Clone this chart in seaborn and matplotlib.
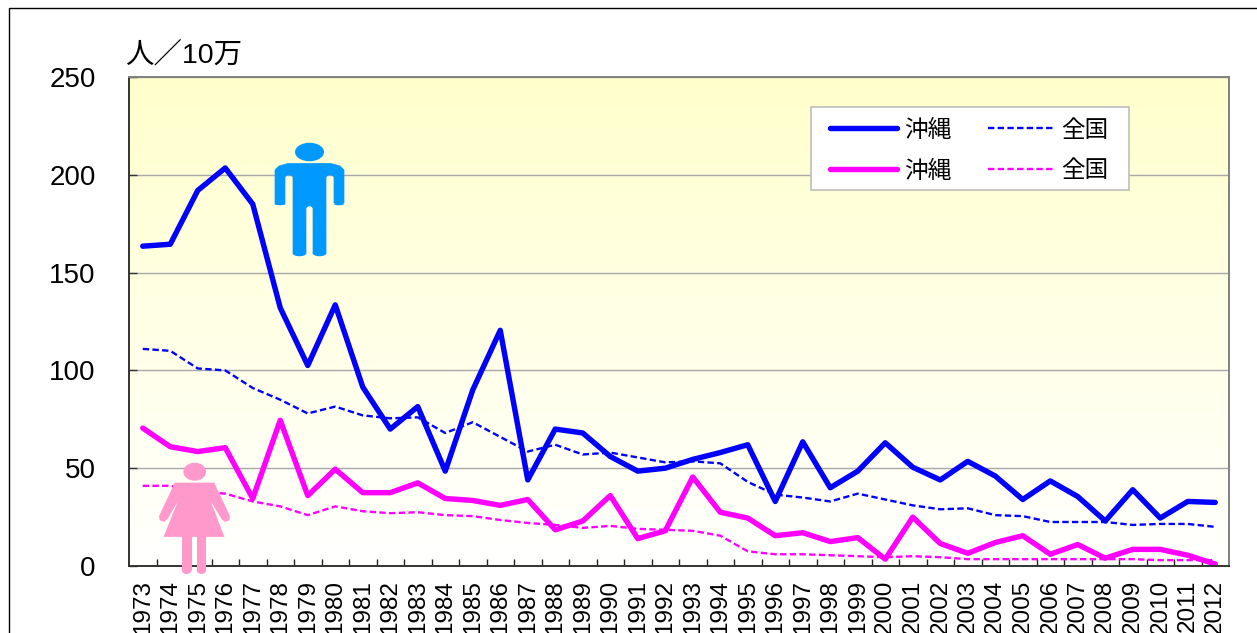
import numpy as np
import pandas as pd
import matplotlib
matplotlib.use("Agg")
import matplotlib.pyplot as plt
import seaborn as sns
from matplotlib.patches import Ellipse, Polygon, Rectangle
from matplotlib.colors import LinearSegmentedColormap
from matplotlib.ticker import FixedLocator

years = [str(y) for y in range(1973, 2013)]
male_okinawa = [163.5,164.5,192,203.5,185,132,102.5,133.5,91.5,70,81.5,48.5,90,120.5,44,70,68,56,48.5,50,
                54.5,58,62,33,63.5,40,48.5,63,50.5,44,53.5,46,34,43.5,35.5,23,39,24.5,33,32.5]
male_national = [111,110,101,100,91,85,78,81.5,77,75.5,76,68,73.5,66,58.5,62,57,58,55.5,53,
                 53.5,52.5,43,36.5,35,33,37,34,31,29,29.5,26,25.5,22.5,22.5,22.5,21,21.5,21.5,20]
female_okinawa = [70.5,61,58.5,60.5,34.5,74.5,36,49.5,37.5,37.5,42.5,34.5,33.5,31,34,18.5,23,36,14,18,
                  45.5,27.5,24.5,15.5,17,12.5,14.5,3.5,25,11.5,6.5,12,15.5,6,11,4,8.5,8.5,5.5,1]
female_national = [41,41,38,37,33,30.5,26,30.5,28,27,27.5,26,25.5,23.5,22,21,19.5,20.5,19,18.5,
                   18,15.5,7.5,6,6,5.5,5,4.5,5,4.5,3.5,3.5,3.5,3.5,3.5,3.5,3.5,3,3,3]
y_ticks = [0, 50, 100, 150, 200, 250]
unit_label = "人／10万"
okinawa_label = "沖縄"
national_label = "全国"

W, H = 1257, 633
sns.set_theme(style="white")
plt.rcParams["font.family"] = ["Liberation Sans", "Noto Sans CJK JP", "DejaVu Sans"]

fig = plt.figure(figsize=(W / 100, H / 100), dpi=100, facecolor="white")
ax = fig.add_axes([129 / W, 1 - 566 / H, 1100 / W, 489 / H])

cmap = LinearSegmentedColormap.from_list("bg", ["#FFFFFF", "#FFFFCC"])
ax.imshow(np.linspace(1, 0, 256).reshape(-1, 1), cmap=cmap, aspect="auto",
          extent=(0, 1, 0, 1), transform=ax.transAxes, zorder=0)

df = pd.DataFrame({"year": years, "mo": male_okinawa, "mn": male_national,
                   "fo": female_okinawa, "fn": female_national})
dash = (0, (2.7, 1.4))
sns.lineplot(data=df, x="year", y="mn", color="#0000FF", lw=1.7, linestyle=dash, ax=ax, sort=False, errorbar=None)
sns.lineplot(data=df, x="year", y="fn", color="#FF00FF", lw=1.7, linestyle=dash, ax=ax, sort=False, errorbar=None)
sns.lineplot(data=df, x="year", y="mo", color="#0000FF", lw=3.9, ax=ax, sort=False, errorbar=None,
             solid_capstyle="round", solid_joinstyle="round")
sns.lineplot(data=df, x="year", y="fo", color="#FF00FF", lw=3.9, ax=ax, sort=False, errorbar=None,
             solid_capstyle="round", solid_joinstyle="round")
l_mn, l_fn, l_mo, l_fo = ax.lines[:4]

ax.set_xlim(-0.5, len(years) - 0.5)
ax.set_ylim(0, 250)
ax.set_xlabel("")
ax.set_ylabel("")
ax.set_yticks(y_ticks)
ax.set_xticks(range(len(years)))
ax.set_xticklabels(years, rotation=90, fontsize=17.5)
ax.xaxis.set_minor_locator(FixedLocator(np.arange(0.5, len(years) - 1, 1)))
ax.tick_params(axis="x", which="major", length=0, pad=10, bottom=True, labelcolor="black")
ax.tick_params(axis="x", which="minor", direction="in", length=5, width=1, color="#222222", bottom=True)
ax.tick_params(axis="y", direction="in", length=5.8, width=1, color="#333333", left=True, pad=24, labelsize=20, labelcolor="black")
ax.grid(False)
ax.yaxis.grid(True, color="#A8A8A8", lw=1)
for s, c in [("left", "#333333"), ("bottom", "#333333"), ("top", "#808080"), ("right", "#808080")]:
    ax.spines[s].set_visible(True)
    ax.spines[s].set_color(c)
    ax.spines[s].set_linewidth(1.4)

# legend box behind a frameless legend
ax.add_patch(Rectangle((811 / W, 1 - 190 / H), 318 / W, 83 / H, transform=fig.transFigure,
                       fc="white", ec="#BDBDBD", lw=1.2, zorder=4, clip_on=False))
leg = ax.legend(handles=[l_mo, l_fo, l_mn, l_fn],
                labels=[okinawa_label, okinawa_label, national_label, national_label],
                ncol=2, loc="upper left", bbox_to_anchor=(830 / W, 1 - 119.5 / H),
                bbox_transform=fig.transFigure, fontsize=17, frameon=False, borderaxespad=0,
                borderpad=0, handlelength=2.85, handletextpad=0.27, columnspacing=1.55,
                labelspacing=0.8)
leg.set_zorder(5)
for t in leg.get_texts():
    t.set_color("black")

# overlay in image pixels: frame, unit label and the two pictograms
ov = fig.add_axes([0, 0, 1, 1], zorder=5)
ov.set_xlim(0, W)
ov.set_ylim(H, 0)
ov.axis("off")
ov.patch.set_alpha(0)
ov.plot([9, 9, W], [H, 7.5, 7.5], color="black", lw=1.0)
ov.text(125, 55, unit_label, fontsize=20.5, color="black", va="center", ha="left")

blue = "#0099FF"
ov.add_patch(Ellipse((309.5, 152), 29, 18.5, color=blue, lw=0))
ov.add_patch(Polygon([(275, 204), (275, 170), (279, 166), (288, 163.5), (331, 163.5), (340, 166), (344, 170), (344, 203), (334, 203),
                      (334, 177), (332, 175), (328, 175), (326, 177), (326, 254), (313, 254), (313, 208), (311, 206), (308, 206), (306, 208), (306, 254),
                      (293, 254), (293, 177), (291, 175), (287, 175), (285, 177), (285, 204)], closed=True, fc=blue, ec=blue, lw=0.5, joinstyle="round"))
for cx in (299.5, 319.5):
    ov.add_patch(Ellipse((cx, 253.5), 13, 5.5, color=blue, lw=0))
for cx in (280, 339):
    ov.add_patch(Ellipse((cx, 204), 10, 2.5, color=blue, lw=0))

pink = "#FF99CC"
ov.add_patch(Ellipse((194.7, 471.7), 22.7, 18, color=pink, lw=0))
ov.add_patch(Polygon([(175, 483), (159.5, 516), (160, 520), (164, 521.5), (167, 519), (179.5, 498), (164, 536.7),
                      (224, 536.7), (209, 498), (222, 519), (225, 521.5), (229, 520), (229.5, 516), (214, 483)],
                     closed=True, fc=pink, ec=pink, lw=0.5, joinstyle="round"))
for x0, x1 in [(181.7, 191.7), (196.7, 206.2)]:
    ov.add_patch(Polygon([(x0, 536), (x1, 536), (x1, 570), (x0, 570)], closed=True, fc=pink, ec=pink, lw=0))
    ov.add_patch(Ellipse(((x0 + x1) / 2, 570), x1 - x0, 8, color=pink, lw=0))

fig.savefig("out.png", dpi=100)
